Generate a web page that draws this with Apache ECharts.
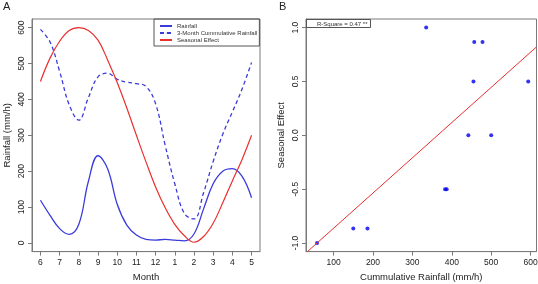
<!DOCTYPE html>
<html>
<head>
<meta charset="utf-8">
<script src="https://cdn.jsdelivr.net/npm/echarts@6/dist/echarts.min.js"></script>
<style>
  html, body { margin: 0; padding: 0; background: #fff; }
  #chart { width: 538px; height: 284px; }
</style>
</head>
<body>
<div id="chart"></div>
<script>
// panel A: monthly rainfall, read every half month
const months = ['6', '7', '8', '9', '10', '11', '12', '1', '2', '3', '4', '5'];
const monthPos = [0, 1, 2, 3, 4, 5, 6, 7, 8, 9, 10, 11];
const samplePos = [0, 0.5, 1, 1.5, 2, 2.5, 3, 3.5, 4, 4.5, 5, 5.5, 6, 6.5, 7, 7.5, 8, 8.5, 9, 9.5, 10, 10.5, 11];
const rainfall = [119, 77, 40, 24, 52, 172, 243, 207, 108, 50, 22, 10, 8, 10, 8, 6, 25, 95, 165, 200, 207, 186, 126];
const cumRainfall = [595, 560, 478, 385, 342, 405, 463, 473, 456, 448, 444, 436, 388, 272, 165, 82, 67, 140, 227, 303, 365, 428, 503];
const seasonalEffect = [450, 515, 562, 592, 600, 592, 565, 510, 447, 376, 300, 226, 156, 98, 52, 20, 2, 18, 55, 112, 173, 232, 300];
const yTicksA = [0, 100, 200, 300, 400, 500, 600];

// panel B: cumulative rainfall vs seasonal effect
const cumX = [58, 150, 186, 335, 383, 387, 442, 455, 457, 478, 500, 594];
const effectY = [-1, -0.866, -0.866, 1, -0.5, -0.5, 0, 0.5, 0.866, 0.866, 0, 0.5];
const fitIntercept = -1.19;
const fitSlope = 0.00327;
const xTicksB = [100, 200, 300, 400, 500, 600];
const yTicksB = [-1, -0.5, 0, 0.5, 1];

const FONT = 'Liberation Sans, Arial, sans-serif';
const BLUE = '#3b3bdc';
const RED = '#e8302e';
const FRAME = '#7a7a7a';

const chart = echarts.init(document.getElementById('chart'));

// R style axis: frame comes from the grid, ticks point outwards
function rAxis(ticks, opts) {
  return Object.assign({
    type: 'value',
    axisLine: { show: true, onZero: false, lineStyle: { color: FRAME, width: 1 } },
    splitLine: { show: false },
    axisTick: { show: true, length: 4, customValues: ticks, lineStyle: { color: FRAME } },
    nameLocation: 'middle',
    nameGap: 21,
    nameTextStyle: { fontFamily: FONT, fontSize: 9.5, color: '#222' }
  }, opts, {
    axisLabel: Object.assign({ customValues: ticks, margin: 7, fontFamily: FONT, fontSize: 8.5, color: '#222' }, opts.axisLabel)
  });
}

const xMinB = 30, xMaxB = 615;

chart.setOption({
  animation: false,
  title: [
    { text: 'A', left: 3, top: 1, padding: 0, textStyle: { fontFamily: FONT, fontSize: 11, fontWeight: 'normal', color: '#222' } },
    { text: 'B', left: 279, top: 1, padding: 0, textStyle: { fontFamily: FONT, fontSize: 11, fontWeight: 'normal', color: '#222' } },
    {
      text: 'R-Square = 0.47 **', left: 306, top: 19,
      borderColor: '#555', borderWidth: 1, padding: [2, 3, 1, 11],
      textStyle: { fontFamily: FONT, fontSize: 6, fontWeight: 'normal', color: '#333' }
    }
  ],
  legend: {
    orient: 'vertical', left: 154, top: 19,
    data: ['Rainfall', '3-Month Cummulative Rainfall', 'Seasonal Effect'],
    borderColor: '#555', borderWidth: 1, padding: [4, 2, 3, 5],
    itemWidth: 12, itemHeight: 1, itemGap: 1,
    textStyle: { fontFamily: FONT, fontSize: 6, lineHeight: 6, color: '#333' }
  },
  grid: [
    { left: 32, top: 19, width: 228, height: 232.6, outerBoundsMode: 'none', show: true, borderColor: FRAME, borderWidth: 1 },
    { left: 306, top: 19, width: 230.5, height: 232.6, outerBoundsMode: 'none', show: true, borderColor: FRAME, borderWidth: 1 }
  ],
  xAxis: [
    rAxis(monthPos, {
      gridIndex: 0, min: -0.44, max: 11.44, name: 'Month',
      axisLabel: { formatter: v => months[Math.round(v)] }
    }),
    rAxis(xTicksB, { gridIndex: 1, min: xMinB, max: xMaxB, name: 'Cummulative Rainfall (mm/h)' })
  ],
  yAxis: [
    rAxis(yTicksA, {
      gridIndex: 0, min: -24, max: 624, name: 'Rainfall (mm/h)', nameGap: 20,
      axisLabel: { rotate: 90, margin: 6 }
    }),
    rAxis(yTicksB, {
      gridIndex: 1, min: -1.08, max: 1.08, name: 'Seasonal Effect', nameGap: 20,
      axisLabel: { rotate: 90, margin: 6, formatter: v => v.toFixed(1) }
    })
  ],
  series: [
    {
      name: 'Rainfall', type: 'line', xAxisIndex: 0, yAxisIndex: 0,
      data: samplePos.map((x, i) => [x, rainfall[i]]),
      smooth: 0.4, symbol: 'none', lineStyle: { color: BLUE, width: 1.3 }, itemStyle: { color: BLUE }
    },
    {
      name: '3-Month Cummulative Rainfall', type: 'line', xAxisIndex: 0, yAxisIndex: 0,
      data: samplePos.map((x, i) => [x, cumRainfall[i]]),
      smooth: 0.4, symbol: 'none', lineStyle: { color: BLUE, width: 1.3, type: [4, 3] }, itemStyle: { color: BLUE }
    },
    {
      name: 'Seasonal Effect', type: 'line', xAxisIndex: 0, yAxisIndex: 0,
      data: samplePos.map((x, i) => [x, seasonalEffect[i]]),
      smooth: 0.4, symbol: 'none', lineStyle: { color: RED, width: 1.2 }, itemStyle: { color: RED }
    },
    {
      type: 'scatter', xAxisIndex: 1, yAxisIndex: 1,
      data: cumX.map((x, i) => [x, effectY[i]]),
      symbolSize: 4, itemStyle: { color: '#0000ee' }
    },
    {
      type: 'line', xAxisIndex: 1, yAxisIndex: 1, clip: true,
      data: [[xMinB, fitIntercept + fitSlope * xMinB], [xMaxB, fitIntercept + fitSlope * xMaxB]],
      symbol: 'none', lineStyle: { color: RED, width: 1 }
    }
  ]
});
</script>
</body>
</html>
